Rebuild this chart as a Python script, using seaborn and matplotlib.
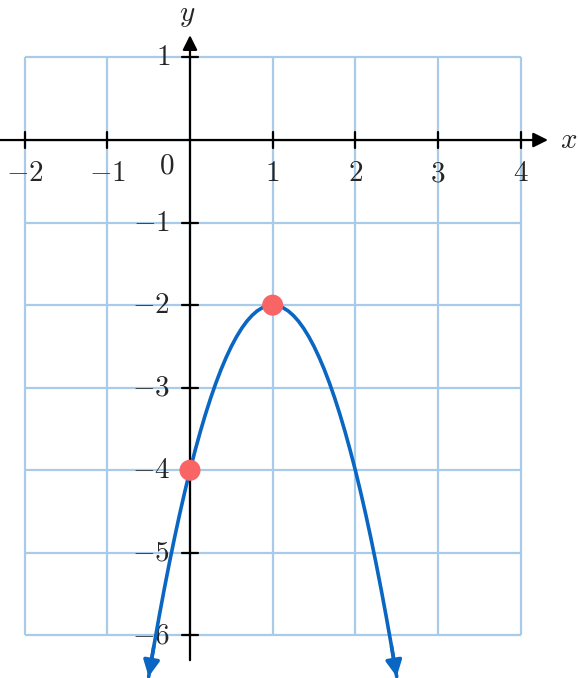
"""
Downward parabola with vertex and y-intercept marked on a grid.
"""

import matplotlib
matplotlib.use("Agg")
import matplotlib.pyplot as plt
import numpy as np
import pandas as pd
import seaborn as sns

# ── Data ─────────────────────────────────────────────────────────────

x_ticks = [-2, -1, 1, 2, 3, 4]
y_ticks = [-6, -5, -4, -3, -2, -1, 1]

curve_x = [-0.5, -0.4375, -0.375, -0.3125, -0.25, -0.1875, -0.125, -0.0625,
           0.0, 0.0625, 0.125, 0.1875, 0.25, 0.3125, 0.375, 0.4375,
           0.5, 0.5625, 0.625, 0.6875, 0.75, 0.8125, 0.875, 0.9375,
           1.0, 1.0625, 1.125, 1.1875, 1.25, 1.3125, 1.375, 1.4375,
           1.5, 1.5625, 1.625, 1.6875, 1.75, 1.8125, 1.875, 1.9375,
           2.0, 2.0625, 2.125, 2.1875, 2.25, 2.3125, 2.375, 2.4375, 2.5]
curve_y = [-6.5, -6.133, -5.781, -5.445, -5.125, -4.820, -4.531, -4.258,
           -4.0, -3.758, -3.531, -3.320, -3.125, -2.945, -2.781, -2.633,
           -2.5, -2.383, -2.281, -2.195, -2.125, -2.070, -2.031, -2.008,
           -2.0, -2.008, -2.031, -2.070, -2.125, -2.195, -2.281, -2.383,
           -2.5, -2.633, -2.781, -2.945, -3.125, -3.320, -3.531, -3.758,
           -4.0, -4.258, -4.531, -4.820, -5.125, -5.445, -5.781, -6.133, -6.5]

point_x = [0, 1]
point_y = [-4, -2]

# ── Theme ────────────────────────────────────────────────────────────

sns.set_theme(style="white")
plt.rcParams.update({
    "mathtext.fontset": "cm",
    "font.family": ["DejaVu Serif"],
})

GRID = "#a9cbea"
CURVE = "#0966c2"
POINT = "#f96464"
FS = 21

fig = plt.figure(figsize=(5.78, 6.78), dpi=100)
ax = fig.add_axes([0, 0, 1, 1])
ax.set_xlim(-2.298, 4.693)
ax.set_ylim(-6.516, 1.696)
ax.axis("off")

# grid
grid_x = np.arange(-2, 5)
grid_y = np.arange(-6, 2)
ax.vlines(grid_x, -6, 1, color=GRID, lw=1.6, zorder=1)
ax.hlines(grid_y, -2, 4, color=GRID, lw=1.6, zorder=1)

# axes with arrows
ax.annotate("", xy=(4.33, 0), xytext=(-2.3, 0),
            arrowprops=dict(arrowstyle="-|>", color="black", lw=1.6,
                            mutation_scale=22, shrinkA=0, shrinkB=0), zorder=3)
ax.annotate("", xy=(0, 1.27), xytext=(0, -6.3),
            arrowprops=dict(arrowstyle="-|>", color="black", lw=1.6,
                            mutation_scale=22, shrinkA=0, shrinkB=0), zorder=3)

tick = 0.1
for xv in x_ticks:
    ax.plot([xv, xv], [-tick, tick], color="black", lw=1.6, zorder=3)
    ax.text(xv, -0.40, rf"${xv}$", ha="center", va="center", fontsize=FS)
for yv in y_ticks:
    ax.plot([-tick, tick], [yv, yv], color="black", lw=1.6, zorder=3)
    ax.text(-0.24, yv, rf"${yv}$", ha="right", va="center", fontsize=FS)
ax.text(-0.28, -0.31, r"$0$", ha="center", va="center", fontsize=FS)
ax.text(4.58, 0, r"$x$", ha="center", va="center", fontsize=FS)
ax.text(-0.04, 1.52, r"$y$", ha="center", va="center", fontsize=FS)

# curve
df = pd.DataFrame({"x": curve_x, "y": curve_y})
sns.lineplot(data=df, x="x", y="y", sort=False, color=CURVE, lw=2.6,
             ax=ax, zorder=4, solid_joinstyle="round")
for i0, i1 in [(1, 0), (-2, -1)]:
    ax.annotate("", xy=(curve_x[i1], curve_y[i1]),
                xytext=(curve_x[i0], curve_y[i0]),
                arrowprops=dict(arrowstyle="-|>", color=CURVE, lw=2.6,
                                mutation_scale=24, shrinkA=0, shrinkB=0),
                zorder=4)

sns.scatterplot(x=point_x, y=point_y, color=POINT, s=230, edgecolor="none",
                ax=ax, zorder=5)

ax.set_xlabel("")
ax.set_ylabel("")
fig.savefig("out.png", dpi=100)
